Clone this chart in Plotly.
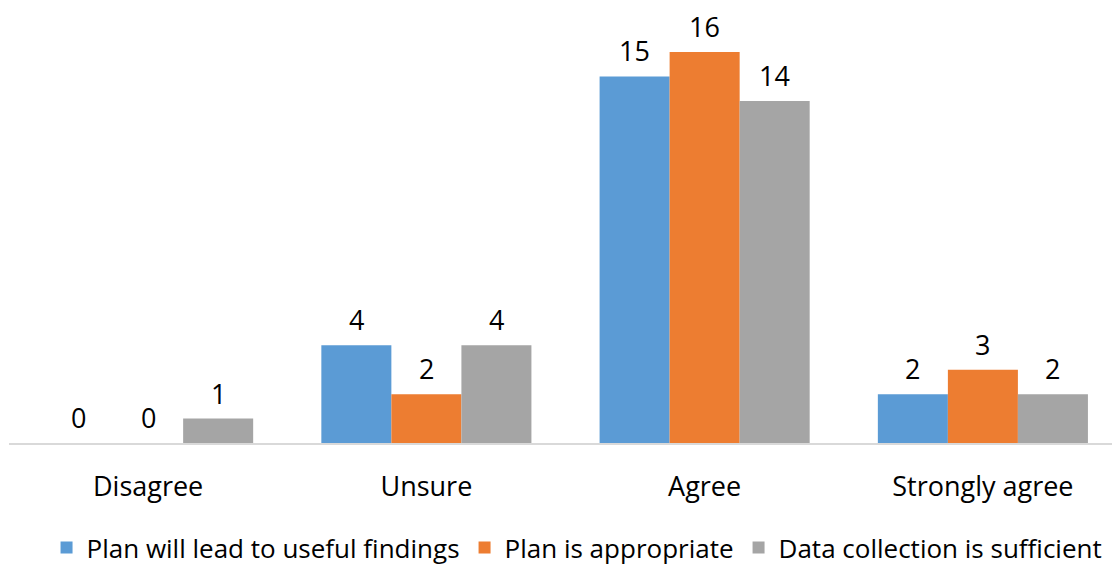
import plotly.graph_objects as go

categories = ["Disagree", "Unsure", "Agree", "Strongly agree"]
useful_findings = [0, 4, 15, 2]
appropriate = [0, 2, 16, 3]
data_sufficient = [1, 4, 14, 2]

series = [
    ("Plan will lead to useful findings", useful_findings, "#5B9BD5"),
    ("Plan is appropriate", appropriate, "#ED7D31"),
    ("Data collection is sufficient", data_sufficient, "#A5A5A5"),
]

FONT = "Open Sans, Liberation Sans, sans-serif"
SIZE = 27
BARGAP = 0.245

fig = go.Figure()
n = len(series)
bar_w = (1 - BARGAP) / n
for k, (name, vals, color) in enumerate(series):
    fig.add_trace(go.Bar(
        x=categories, y=vals, name=name,
        marker=dict(color=color, line=dict(width=0)),
        cliponaxis=False,
    ))
    # value labels above each bar, a little higher than plotly's default pad
    offset = (k - (n - 1) / 2) * bar_w
    for i, v in enumerate(vals):
        fig.add_annotation(
            x=i + offset, y=v, xref="x", yref="y",
            text=str(v), showarrow=False,
            yanchor="bottom", yshift=5,
            font=dict(family=FONT, size=SIZE, color="#000000"),
        )

fig.update_layout(
    width=1112, height=567,
    margin=dict(l=9, r=0, t=20, b=124, autoexpand=False),
    paper_bgcolor="white", plot_bgcolor="white",
    barmode="group", bargap=BARGAP, bargroupgap=0,
    font=dict(family=FONT, size=SIZE, color="#000000"),
    showlegend=True,
    legend=dict(orientation="h", x=0.515, xanchor="center",
                yref="paper", y=-0.247, yanchor="middle",
                font=dict(family=FONT, size=26, color="#000000"),
                itemwidth=30, traceorder="normal"),
)
fig.update_xaxes(
    type="category", range=[-0.5, 3.464], automargin=False,
    showline=True, linecolor="#D9D9D9", linewidth=2,
    ticks="", showgrid=False, ticklabelstandoff=19,
    tickfont=dict(family=FONT, size=SIZE, color="#000000"),
)
fig.update_yaxes(range=[0, 17.31], visible=False, showgrid=False, zeroline=False)

fig.write_html("out.html")
